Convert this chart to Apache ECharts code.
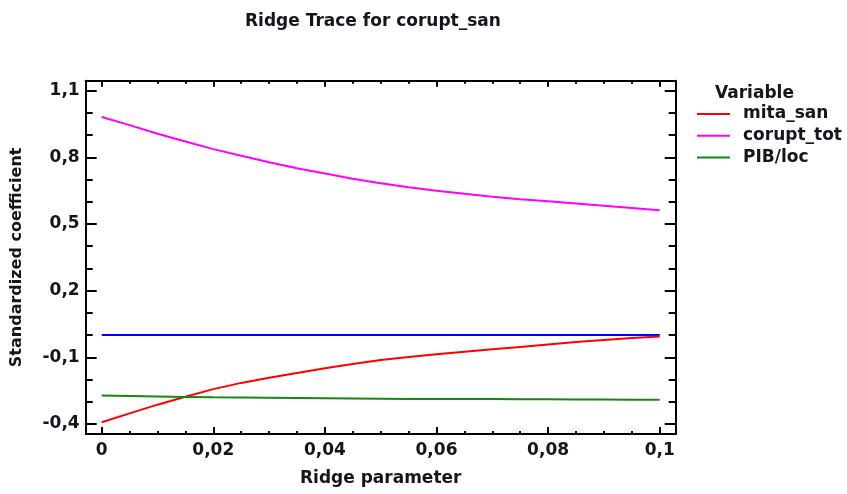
<!DOCTYPE html>
<html>
<head>
<meta charset="utf-8">
<script src="https://cdn.jsdelivr.net/npm/echarts@6/dist/echarts.min.js"></script>
<style>html,body{margin:0;padding:0;background:#fff}#c{width:847px;height:494px}</style>
</head>
<body>
<div id="c"></div>
<script>
const ridge = [0, 0.005, 0.01, 0.015, 0.02, 0.025, 0.03, 0.035, 0.04, 0.045, 0.05,
  0.055, 0.06, 0.065, 0.07, 0.075, 0.08, 0.085, 0.09, 0.095, 0.1];
const mitaSan = [-0.392, -0.352, -0.313, -0.277, -0.243, -0.215, -0.192, -0.170, -0.149, -0.130, -0.112,
  -0.098, -0.086, -0.075, -0.064, -0.053, -0.042, -0.031, -0.022, -0.013, -0.006];
const coruptTot = [0.982, 0.945, 0.906, 0.871, 0.837, 0.807, 0.778, 0.751, 0.727, 0.704, 0.683,
  0.665, 0.650, 0.636, 0.623, 0.612, 0.602, 0.592, 0.582, 0.572, 0.562];
const pibLoc = [-0.272, -0.274, -0.276, -0.278, -0.280, -0.281, -0.282, -0.283, -0.284, -0.285, -0.286,
  -0.287, -0.287, -0.288, -0.288, -0.289, -0.289, -0.290, -0.290, -0.291, -0.291];
const zeroLine = [0, 0, 0, 0, 0, 0, 0, 0, 0, 0, 0, 0, 0, 0, 0, 0, 0, 0, 0, 0, 0];
const seriesNames = ['mita_san', 'corupt_tot', 'PIB/loc'];

const xTickLabels = [0, 0.02, 0.04, 0.06, 0.08, 0.1];
const xMinorTicks = [0, 0.005, 0.01, 0.015, 0.02, 0.025, 0.03, 0.035, 0.04, 0.045, 0.05,
  0.055, 0.06, 0.065, 0.07, 0.075, 0.08, 0.085, 0.09, 0.095, 0.1];
const yTickLabels = [-0.4, -0.1, 0.2, 0.5, 0.8, 1.1];
const yMinorTicks = [-0.4, -0.3, -0.2, -0.1, 0, 0.1, 0.2, 0.3, 0.4, 0.5, 0.6, 0.7, 0.8, 0.9, 1.0, 1.1];

const FONT = 'DejaVu Sans';
const TXT = '#151520';
const X_MIN = -0.00287, X_MAX = 0.10287, Y_MIN = -0.445, Y_MAX = 1.145;
const fmt = v => String(+v.toFixed(3)).replace('.', ',');

function xAx(pos, len, ticks, opts) {
  return Object.assign({
    type: 'value', position: pos, min: X_MIN, max: X_MAX,
    axisLine: { show: false, onZero: false, lineStyle: { color: '#000', width: 2 } },
    axisTick: { show: true, inside: true, length: len, customValues: ticks, lineStyle: { color: '#000', width: 2 } },
    axisLabel: { show: false },
    splitLine: { show: false }
  }, opts || {});
}
function yAx(pos, len, ticks, opts) {
  return Object.assign({
    type: 'value', position: pos, min: Y_MIN, max: Y_MAX,
    axisLine: { show: false, onZero: false, lineStyle: { color: '#000', width: 2 } },
    axisTick: { show: true, inside: true, length: len, customValues: ticks, lineStyle: { color: '#000', width: 2 } },
    axisLabel: { show: false },
    splitLine: { show: false }
  }, opts || {});
}

const chart = echarts.init(document.getElementById('c'), null, { renderer: 'canvas' });
const colors = ['#ff0000', '#ff00ff', '#128a12'];
const vals = [mitaSan, coruptTot, pibLoc];

chart.setOption({
  animation: false,
  backgroundColor: '#fff',
  title: [
    { text: 'Ridge Trace for corupt_san', left: 245, top: 13, padding: 0,
      textStyle: { fontFamily: FONT, fontWeight: 'bold', fontSize: 17, color: TXT } },
    { text: 'Variable', left: 715, top: 85, padding: 0,
      textStyle: { fontFamily: FONT, fontWeight: 'bold', fontSize: 17, color: TXT } }
  ],
  legend: {
    orient: 'vertical', left: 697, top: 104, padding: 0,
    data: seriesNames,
    icon: 'rect', itemWidth: 33, itemHeight: 2, itemGap: 1.7,
    textStyle: { fontFamily: FONT, fontWeight: 'bold', fontSize: 17, color: TXT, lineHeight: 20, padding: [0, 0, 0, 8] }
  },
  grid: { left: 85.7, top: 80.7, right: 171.3, bottom: 60, containLabel: false },
  xAxis: [
    xAx('bottom', 7, xTickLabels, {
      axisLine: { show: true, onZero: false, lineStyle: { color: '#000', width: 2 } },
      axisLabel: { show: true, customValues: xTickLabels, margin: 8, formatter: fmt,
        fontFamily: FONT, fontWeight: 'bold', fontSize: 17, color: TXT },
      name: 'Ridge parameter', nameLocation: 'middle', nameGap: 36,
      nameTextStyle: { fontFamily: FONT, fontWeight: 'bold', fontSize: 17, color: TXT }
    }),
    xAx('bottom', 3, xMinorTicks),
    xAx('top', 6, xTickLabels, { axisLine: { show: true, onZero: false, lineStyle: { color: '#000', width: 2 } } }),
    xAx('top', 3, xMinorTicks)
  ],
  yAxis: [
    yAx('left', 11, yTickLabels, {
      axisLine: { show: true, onZero: false, lineStyle: { color: '#000', width: 2 } },
      axisLabel: { show: true, customValues: yTickLabels, margin: 6, formatter: fmt,
        fontFamily: FONT, fontWeight: 'bold', fontSize: 17, color: TXT },
      name: 'Standardized coefficient', nameLocation: 'middle', nameGap: 61,
      nameTextStyle: { fontFamily: FONT, fontWeight: 'bold', fontSize: 16, color: TXT }
    }),
    yAx('left', 7, yMinorTicks),
    yAx('right', 11, yTickLabels, { axisLine: { show: true, onZero: false, lineStyle: { color: '#000', width: 2 } } }),
    yAx('right', 7, yMinorTicks)
  ],
  series: [
    {
      name: 'zero', type: 'line', xAxisIndex: 0, yAxisIndex: 0,
      data: ridge.map((x, i) => [x, zeroLine[i]]),
      symbol: 'none', lineStyle: { color: '#0000ff', width: 2 }, z: 1
    }
  ].concat(seriesNames.map((n, s) => ({
    name: n, type: 'line', xAxisIndex: 0, yAxisIndex: 0,
    data: ridge.map((x, i) => [x, vals[s][i]]),
    symbol: 'none', showSymbol: false,
    itemStyle: { color: colors[s] },
    lineStyle: { color: colors[s], width: 2 }, z: 2
  })))
});
</script>
</body>
</html>
